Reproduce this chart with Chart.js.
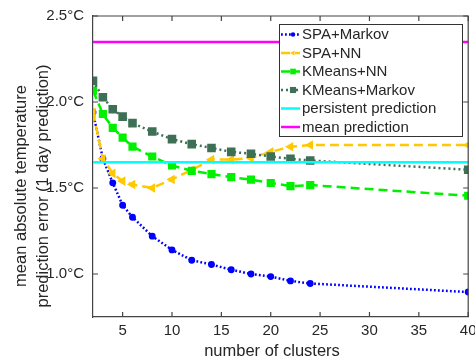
<!DOCTYPE html>
<html>
<head>
<meta charset="utf-8">
<script src="https://cdn.jsdelivr.net/npm/chart.js@4.4.1/dist/chart.umd.min.js"></script>
<style>
  html, body { margin: 0; padding: 0; background: #fff; }
</style>
</head>
<body>
<canvas id="chart" width="475" height="363"></canvas>
<script>
// data
const clusters = [2, 3, 4, 5, 6, 8, 10, 12, 14, 16, 18, 20, 22, 24, 40];
const spaMarkov = [1.94, 1.67, 1.53, 1.40, 1.33, 1.22, 1.14, 1.08, 1.055, 1.025, 1.00, 0.985, 0.96, 0.945, 0.895];
const spaNN = [1.94, 1.67, 1.585, 1.54, 1.52, 1.50, 1.55, 1.605, 1.665, 1.665, 1.675, 1.71, 1.74, 1.75, 1.75];
const kmeansNN = [2.066, 1.93, 1.85, 1.793, 1.741, 1.683, 1.631, 1.60, 1.581, 1.563, 1.549, 1.529, 1.511, 1.517, 1.455];
const kmeansMarkov = [2.123, 2.028, 1.958, 1.915, 1.877, 1.828, 1.784, 1.755, 1.733, 1.71, 1.699, 1.683, 1.67, 1.66, 1.606];
const persistentLevel = 1.65;
const meanLevel = 2.349;

const xTicks = [5, 10, 15, 20, 25, 30, 35, 40];
const yTicks = [1.0, 1.5, 2.0, 2.5];
const xRange = [2, 40];
const yRange = [0.75, 2.5];

const font = "'Liberation Sans', Arial, Helvetica, sans-serif";
const textColor = '#262626';
const axisColor = '#444';

Chart.defaults.font.family = font;
Chart.defaults.color = textColor;

function points(arr) {
  return clusters.map((c, i) => ({ x: c, y: arr[i] }));
}
function flat(level) {
  return xRange.map(x => ({ x: x, y: level }));
}

// box, inward ticks, legend and axis titles (matlab style)
const framePlugin = {
  id: 'frame',
  afterDraw(chart) {
    const ctx = chart.ctx;
    const a = chart.chartArea;
    const xs = chart.scales.x;
    const ys = chart.scales.y;
    ctx.save();
    ctx.strokeStyle = axisColor;
    ctx.lineWidth = 1.2;
    ctx.beginPath();
    ctx.moveTo(a.left, a.top);
    ctx.lineTo(a.right, a.top);
    ctx.lineTo(a.right, a.bottom);
    ctx.stroke();
    ctx.beginPath();
    xTicks.forEach(v => {
      const px = xs.getPixelForValue(v);
      ctx.moveTo(px, a.bottom); ctx.lineTo(px, a.bottom - 5);
      ctx.moveTo(px, a.top); ctx.lineTo(px, a.top + 5);
    });
    yTicks.forEach(v => {
      const py = ys.getPixelForValue(v);
      ctx.moveTo(a.left, py); ctx.lineTo(a.left + 5, py);
      ctx.moveTo(a.right, py); ctx.lineTo(a.right - 5, py);
    });
    ctx.stroke();

    // legend
    const lx = 279.5, ly = 24.5, lw = 183, lh = 112;
    ctx.fillStyle = '#fff';
    ctx.fillRect(lx, ly, lw, lh);
    ctx.strokeStyle = '#333';
    ctx.lineWidth = 1;
    ctx.strokeRect(lx, ly, lw, lh);
    chart.data.datasets.forEach((ds, i) => {
      const y = 34.5 + i * 18.5;
      ctx.save();
      ctx.strokeStyle = ds.borderColor;
      ctx.lineWidth = ds.borderWidth;
      ctx.setLineDash(ds.borderDash || []);
      ctx.beginPath();
      ctx.moveTo(281, y);
      ctx.lineTo(300, y);
      ctx.stroke();
      ctx.setLineDash([]);
      if (ds.pointRadius > 0) {
        ctx.fillStyle = ds.backgroundColor;
        ctx.strokeStyle = ds.borderColor;
        Chart.helpers.drawPoint(ctx, {
          pointStyle: ds.pointStyle,
          radius: ds.pointRadius,
          rotation: ds.pointRotation || 0,
          borderWidth: 0
        }, 293, y);
      }
      ctx.restore();
      ctx.fillStyle = textColor;
      ctx.font = '15px ' + font;
      ctx.textBaseline = 'middle';
      ctx.textAlign = 'left';
      ctx.fillText(ds.label, 302, y + 0.5);
    });

    // axis titles
    ctx.fillStyle = textColor;
    ctx.font = '16.5px ' + font;
    ctx.textAlign = 'center';
    ctx.textBaseline = 'middle';
    ctx.fillText('number of clusters', 272, 351);
    ctx.save();
    ctx.translate(0, 186);
    ctx.rotate(-Math.PI / 2);
    ctx.fillText('mean absolute temperature', 0, 21);
    ctx.fillText('prediction error (1 day prediction)', 0, 43);
    ctx.restore();
    ctx.restore();
  }
};

const ctx = document.getElementById('chart').getContext('2d');
new Chart(ctx, {
  type: 'line',
  data: {
    datasets: [
      {
        label: 'SPA+Markov', data: points(spaMarkov),
        borderColor: '#0000ff', backgroundColor: '#0000ff',
        borderWidth: 2.5, borderDash: [1.8, 2.2],
        pointStyle: 'circle', pointRadius: 2.2, order: 6
      },
      {
        label: 'SPA+NN', data: points(spaNN),
        borderColor: '#ffc800', backgroundColor: '#ffc800',
        borderWidth: 2.5, borderDash: [9, 5],
        pointStyle: 'triangle', pointRotation: -90, pointRadius: 3, order: 5
      },
      {
        label: 'KMeans+NN', data: points(kmeansNN),
        borderColor: '#00f000', backgroundColor: '#00f000',
        borderWidth: 2.5, borderDash: [9, 5],
        pointStyle: 'rect', pointRadius: 4, order: 4
      },
      {
        label: 'KMeans+Markov', data: points(kmeansMarkov),
        borderColor: '#3d7055', backgroundColor: '#3d7055',
        borderWidth: 2.5, borderDash: [2, 3],
        pointStyle: 'rect', pointRadius: 4.3, order: 3
      },
      {
        label: 'persistent prediction', data: flat(persistentLevel),
        borderColor: '#00ffff', backgroundColor: '#00ffff',
        borderWidth: 2.5, pointRadius: 0, order: 2
      },
      {
        label: 'mean prediction', data: flat(meanLevel),
        borderColor: '#ff00ff', backgroundColor: '#ff00ff',
        borderWidth: 2.5, pointRadius: 0, order: 1
      }
    ]
  },
  options: {
    responsive: false,
    animation: false,
    layout: { padding: { left: 0, top: 16, right: 3, bottom: 0 } },
    elements: { line: { tension: 0, borderCapStyle: 'butt' }, point: { borderWidth: 0 } },
    plugins: {
      legend: { display: false },
      tooltip: { enabled: false }
    },
    scales: {
      x: {
        type: 'linear', min: xRange[0], max: xRange[1],
        grid: { display: false, drawTicks: false },
        border: { display: true, color: axisColor, width: 1.2 },
        ticks: { font: { size: 15 }, color: textColor, padding: 5, maxRotation: 0 },
        afterBuildTicks: s => { s.ticks = xTicks.map(v => ({ value: v })); },
        afterFit: s => { s.height = 46; s.paddingLeft = 0; s.paddingRight = 0; }
      },
      y: {
        type: 'linear', min: yRange[0], max: yRange[1],
        grid: { display: false, drawTicks: false },
        border: { display: true, color: axisColor, width: 1.2 },
        ticks: {
          font: { size: 15 }, color: textColor, padding: 9,
          callback: v => v.toFixed(1) + '°C'
        },
        afterBuildTicks: s => { s.ticks = yTicks.map(v => ({ value: v })); },
        afterFit: s => { s.width = 93; s.paddingTop = 0; s.paddingBottom = 0; }
      }
    }
  },
  plugins: [framePlugin]
});
</script>
</body>
</html>
